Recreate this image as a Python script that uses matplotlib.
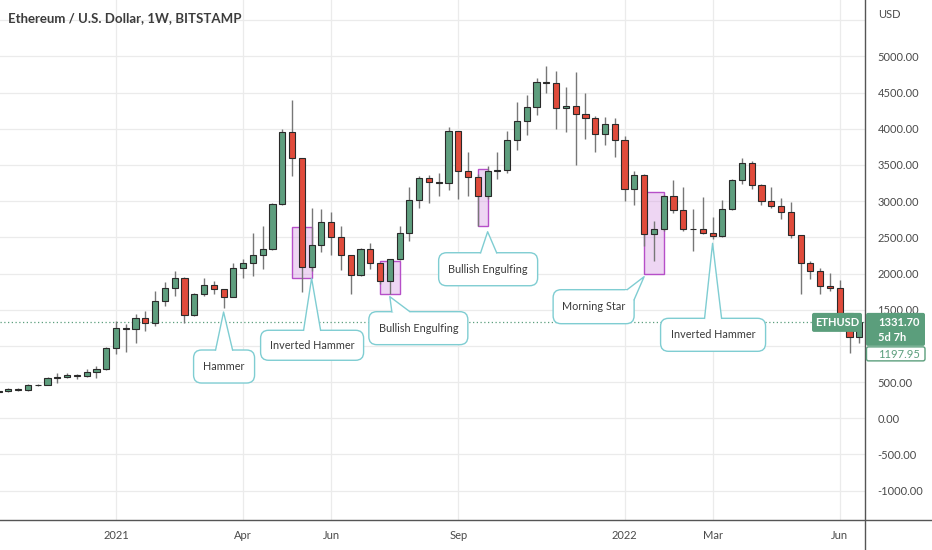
import matplotlib
matplotlib.use('Agg')
import matplotlib.pyplot as plt
import matplotlib.dates as mdates
from matplotlib.patches import FancyBboxPatch, Polygon, Rectangle
from matplotlib.lines import Line2D
from matplotlib.transforms import IdentityTransform
import numpy as np
import pandas as pd

plt.rcParams['font.family'] = ['Lato', 'DejaVu Sans']

# weekly ETHUSD candles, first week starts 2020-10-12
first_week = '2020-10-12'
opens = [366, 380, 410, 388, 455, 462, 555, 575, 600, 582, 640, 685,
         965, 1245, 1232, 1385, 1315, 1615, 1800, 1940, 1420, 1720, 1845, 1787,
         1680, 2080, 2150, 2250, 2333, 2965, 3950, 3595, 2095, 2395, 2715, 2510,
         2250, 1985, 2335, 2140, 1895, 2195, 2565, 3015, 3315, 3260, 3245, 3965,
         3410, 3330, 3065, 3420, 3430, 3850, 4105, 4300, 4650, 4635, 4290, 4315,
         4210, 4150, 3930, 4070,
         3840, 3165, 3360, 2540, 2610, 3075, 2880, 2620, 2610, 2555, 2520, 2890,
         3295, 3525, 3220, 3000, 2935, 2845, 2530, 2140, 2030, 1825, 1805, 1455,
         1125]
highs = [395, 420, 420, 470, 480, 570, 620, 630, 610, 675, 720, 990,
         1350, 1300, 1440, 1480, 1760, 1880, 2030, 1945, 1730, 1940, 1890, 1790,
         2140, 2200, 2560, 2650, 2980, 4000, 4390, 3600, 2910, 2890, 2850, 2660,
         2260, 2350, 2425, 2150, 2200, 2660, 3190, 3350, 3360, 3390, 4030, 3970,
         3685, 3370, 3480, 3680, 3975, 4375, 4465, 4700, 4870, 4800, 4580, 4780,
         4500, 4175, 4165, 4150,
         3900, 3420, 3375, 2725, 3090, 3290, 3200, 2890, 3050, 2775, 3010, 3300,
         3590, 3560, 3240, 3190, 3045, 2985, 2535, 2170, 2080, 2010, 1915, 1460,
         1340]
lows = [357, 370, 375, 373, 440, 455, 490, 560, 540, 570, 550, 670,
        890, 920, 1040, 1210, 1270, 1550, 1690, 1310, 1410, 1690, 1720, 1530,
        1670, 1940, 1970, 2060, 2320, 2950, 3350, 1745, 2030, 2300, 2255, 2045,
        1710, 1960, 2065, 1850, 1720, 2180, 2450, 2910, 2970, 3075, 3160, 3030,
        3065, 2660, 3030, 3300, 3390, 3700, 3915, 4185, 4490, 3990, 3955, 3500,
        3860, 3675, 3770, 3605,
        3005, 2945, 2380, 2170, 2590, 2840, 2585, 2310, 2540, 2470, 2500, 2880,
        3240, 3170, 2950, 2900, 2750, 2490, 1710, 1920, 1710, 1755, 1450, 900,
        1040]
closes = [380, 410, 388, 455, 462, 555, 575, 600, 582, 640, 685, 965,
          1245, 1232, 1385, 1315, 1615, 1800, 1940, 1420, 1720, 1845, 1787, 1680,
          2080, 2150, 2250, 2333, 2965, 3950, 3595, 2095, 2395, 2715, 2510, 2250,
          1985, 2335, 2140, 1895, 2195, 2565, 3015, 3315, 3260, 3245, 3965, 3410,
          3330, 3065, 3420, 3430, 3850, 4105, 4300, 4650, 4635, 4290, 4315, 4210,
          4150, 3930, 4070, 3840,
          3165, 3360, 2540, 2610, 3075, 2880, 2620, 2610, 2555, 2520, 2890, 3295,
          3525, 3220, 3000, 2935, 2845, 2530, 2140, 2030, 1825, 1805, 1455, 1125,
          1331.70]

last_price = 1331.70
second_price = 1197.95
countdown = '5d 7h'
title = 'Ethereum / U.S. Dollar, 1W, BITSTAMP'

tick_dates = ['2021-01-04', '2021-04-05', '2021-06-07', '2021-09-06',
              '2022-01-03', '2022-03-07', '2022-06-06']
tick_labels = ['2021', 'Apr', 'Jun', 'Sep', '2022', 'Mar', 'Jun']
price_ticks = list(range(-1000, 5501, 500))
# 1000 sits under the last-price labels, 5500 under the currency label
hidden_ticks = [1000, 5500]

# highlighted patterns: first week, last week, low, high
box_start = ['2021-05-10', '2021-07-12', '2021-09-20', '2022-01-17']
box_end = ['2021-05-24', '2021-07-26', '2021-09-27', '2022-01-31']
box_low = [1934, 1717, 2656, 1989]
box_high = [2646, 2177, 3439, 3122]

# callouts: label, pointed week, pointed price
call_text = ['Hammer', 'Inverted Hammer', 'Bullish Engulfing', 'Bullish Engulfing',
             'Morning Star', 'Inverted Hammer']
call_date = ['2021-03-22', '2021-05-24', '2021-07-19', '2021-09-27',
             '2022-01-17', '2022-03-07']
call_price = [1468, 1934, 1680, 2577, 1956, 2417]
# box (left, right, top, bottom) and pointer base points, pixels from the tip, y down
call_box = [(-30, 31, 38, 71), (-51, 52, 52, 82), (-21, 78, 15, 48),
            (-49, 50, 21, 54), (-91, -10, 13, 47), (-52, 53, 75, 108)]
call_base = [((-8, 38), (9, 38)), ((-8, 52), (9, 52)), ((2, 15), (20, 15)),
             ((-7, 21), (9, 21)), ((-17, 13), (-10, 23)), ((-8, 75), (9, 75))]

up_col = '#5e9e7e'
down_col = '#e04b3b'
edge_col = '#2a2a2a'
wick_col = '#777777'
grid_col = '#ebebeb'
cyan = '#7fcdd2'
label_green = '#5b9e7c'
text_col = '#3b3b3b'

W, H = 932, 550
fig = plt.figure(figsize=(W / 100, H / 100), dpi=100)
ax = fig.add_axes([0, 30 / H, 865 / W, 520 / H])

dates = pd.date_range(first_week, periods=len(opens), freq='7D')
xd = mdates.date2num(dates)
o = np.array(opens, float)
hi = np.array(highs, float)
lo = np.array(lows, float)
c = np.array(closes, float)
up = c >= o

ax.vlines(xd, lo, hi, color=wick_col, lw=1, zorder=4)
ax.bar(xd, np.abs(c - o), bottom=np.minimum(o, c), width=4.4,
       color=np.where(up, up_col, down_col), edgecolor=edge_col, lw=0.8, zorder=5)

for s, e, l, h in zip(box_start, box_end, box_low, box_high):
    x0 = mdates.date2num(pd.Timestamp(s))
    x1 = mdates.date2num(pd.Timestamp(e))
    ax.add_patch(Rectangle((x0, l), x1 - x0, h - l, fc='#d69ae3', alpha=0.4,
                           ec='none', zorder=3))
    ax.add_patch(Rectangle((x0, l), x1 - x0, h - l, fc='none', ec='#b64fc8',
                           lw=1, zorder=3.5))

ref = mdates.date2num(pd.Timestamp(tick_dates[0]))
wk_px = 9.78
ax.set_xlim(ref - 116 / wk_px * 7, ref + (865 - 116) / wk_px * 7)
ax.set_ylim(-1405, 5778)

ax.set_xticks([mdates.date2num(pd.Timestamp(d)) for d in tick_dates])
ax.set_xticklabels(tick_labels)
ax.set_yticks(price_ticks)
ax.set_yticklabels(['' if v in hidden_ticks else '%.2f' % v for v in price_ticks])
ax.yaxis.tick_right()
ax.tick_params(axis='both', length=0, labelsize=8, labelcolor='#4a4a4a')
ax.tick_params(axis='x', pad=7)
ax.tick_params(axis='y', pad=9)
ax.grid(True, color=grid_col, lw=0.9, zorder=0)
ax.set_axisbelow(True)
for sp in ax.spines.values():
    sp.set_visible(False)

ax.axhline(last_price, color=label_green, ls=(0, (1, 2)), lw=0.9, zorder=2)

# frame lines around the price and time scales
fig.add_artist(Line2D([865 / W, 865 / W], [0, 1], color='#555555', lw=1,
                      transform=fig.transFigure))
fig.add_artist(Line2D([0, 1], [30 / H, 30 / H], color='#555555', lw=1,
                      transform=fig.transFigure))

fig.text(8 / W, 1 - 18 / H, title, fontsize=9.5, fontweight='bold',
         color='#3c3c3c', va='center', ha='left')
fig.text(878 / W, 1 - 15 / H, 'USD', fontsize=8, color='#4a4a4a',
         va='center', ha='left')

ident = IdentityTransform()


def to_px(date, price):
    return ax.transData.transform((mdates.date2num(pd.Timestamp(date)), price))


for txt, d, p, (L, R, T, B), base in zip(call_text, call_date, call_price,
                                          call_box, call_base):
    tx, ty = to_px(d, p)
    left, right = tx + L, tx + R
    top, bot = ty - T, ty - B
    ax.add_patch(FancyBboxPatch((left, bot), right - left, top - bot,
                                boxstyle='round,pad=0,rounding_size=8',
                                transform=ident, fc='white', ec=cyan, lw=1,
                                zorder=6, clip_on=False))
    cx, cy = (left + right) / 2, (top + bot) / 2
    b = [(tx + bx, ty - by) for bx, by in base]
    inner = []
    for px_, py_ in b[::-1]:
        vx, vy = cx - px_, cy - py_
        n = np.hypot(vx, vy)
        inner.append((px_ + 2.5 * vx / n, py_ + 2.5 * vy / n))
    ax.add_patch(Polygon([b[0], (tx, ty), b[1]] + inner, closed=True,
                         transform=ident, fc='white', ec='none', zorder=7,
                         clip_on=False))
    ax.add_artist(Line2D([b[0][0], tx, b[1][0]], [b[0][1], ty, b[1][1]],
                         color=cyan, lw=1, transform=ident, zorder=8))
    ax.text(cx, cy, txt, transform=ident, ha='center', va='center',
            fontsize=7.8, color=text_col, zorder=9)

# last price labels
lx, ly = to_px(dates[-1], last_price)
ax.add_patch(FancyBboxPatch((812, ly - 10), 50, 19, boxstyle='round,pad=0,rounding_size=2',
                            transform=ident, fc=label_green, ec='none', zorder=10,
                            clip_on=False))
ax.text(837, ly - 0.5, 'ETHUSD', transform=ident, ha='center', va='center',
        fontsize=8, fontweight='bold', color='white', zorder=11)
fig.patches.append(FancyBboxPatch((866, ly - 24), 59, 33,
                                  boxstyle='round,pad=0,rounding_size=2',
                                  transform=ident, fc=label_green, ec='none',
                                  figure=fig, zorder=10))
fig.patches.append(FancyBboxPatch((866.5, ly - 39), 58.5, 14,
                                  boxstyle='round,pad=0,rounding_size=2',
                                  transform=ident, fc='white', ec=label_green,
                                  lw=1, figure=fig, zorder=10))
fig.text(878 / W, (ly - 1) / H, '%.2f' % last_price, fontsize=8,
         fontweight='bold', color='white', va='center', ha='left', zorder=12)
fig.text(878 / W, (ly - 16) / H, countdown, fontsize=8,
         fontweight='bold', color='white', va='center', ha='left', zorder=12)
fig.text(878 / W, (ly - 32.5) / H, '%.2f' % second_price, fontsize=8,
         color=label_green, va='center', ha='left', zorder=12)

fig.savefig('out.png', dpi=100)
